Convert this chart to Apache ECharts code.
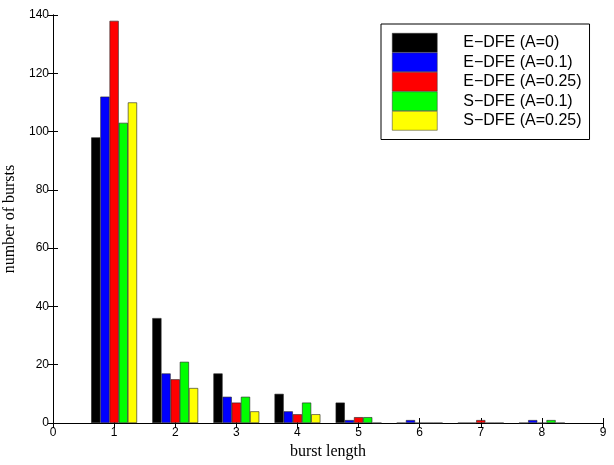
<!DOCTYPE html>
<html style="height: 100%">
   <head>
       <meta charset="utf-8">
   </head>
   <body style="height: 100%; margin: 0; background: #fff">
       <div id="container" style="width: 614px; height: 465px"></div>
       <script type="text/javascript" src="https://cdn.jsdelivr.net/npm/echarts@6/dist/echarts.min.js"></script>
       <script type="text/javascript">
// burst length categories and bar heights
var burstLength = [1, 2, 3, 4, 5, 6, 7, 8];
var edfeA0   = [98, 36, 17, 10, 7, 0, 0, 0];
var edfeA01  = [112, 17, 9, 4, 1, 1, 0, 1];
var edfeA025 = [138, 15, 7, 3, 2, 0, 1, 0];
var sdfeA01  = [103, 21, 9, 7, 2, 0, 0, 1];
var sdfeA025 = [110, 12, 4, 3, 0, 0, 0, 0];
var seriesNames = ['E\u2212DFE (A=0)', 'E\u2212DFE (A=0.1)', 'E\u2212DFE (A=0.25)', 'S\u2212DFE (A=0.1)', 'S\u2212DFE (A=0.25)'];
var seriesColors = ['#000000', '#0000ff', '#ff0000', '#00ff00', '#ffff00'];
var allValues = [edfeA0, edfeA01, edfeA025, sdfeA01, sdfeA025];

var dom = document.getElementById("container");
var myChart = echarts.init(dom);

var tickFont = { fontFamily: 'Liberation Sans, Arial, sans-serif', fontSize: 12, color: '#000' };
var nameFont = { fontFamily: 'Liberation Serif, Times New Roman, serif', fontSize: 16, color: '#000' };

var series = allValues.map(function (vals, i) {
    return {
        name: seriesNames[i],
        type: 'bar',
        xAxisIndex: 0,
        yAxisIndex: 0,
        barWidth: 9.17,
        barGap: '0%',
        itemStyle: { color: seriesColors[i], borderColor: '#222', borderWidth: 0.6 },
        data: burstLength.map(function (x, j) { return [x, vals[j]]; })
    };
});

option = {
    animation: false,
    grid: { left: 53, right: 11, top: 15, bottom: 42, outerBoundsMode: 'none', containLabel: false },
    legend: {
        orient: 'vertical',
        left: 381,
        top: 24,
        itemWidth: 45,
        itemHeight: 19,
        itemGap: 0,
        icon: 'rect',
        padding: [9, 8, 9, 11],
        borderColor: '#000',
        borderWidth: 1,
        backgroundColor: '#fff',
        itemStyle: { borderColor: '#333', borderWidth: 0.5 },
        textStyle: {
            fontFamily: 'Liberation Sans, Arial, sans-serif',
            fontSize: 16,
            lineHeight: 19,
            color: '#000',
            padding: [0, 0, 0, 21]
        },
        data: seriesNames
    },
    xAxis: [{
        type: 'value',
        min: 0, max: 9, interval: 1,
        name: 'burst length',
        nameLocation: 'middle',
        nameGap: 17,
        nameTextStyle: nameFont,
        axisLine: { show: true, lineStyle: { color: '#000', width: 1 } },
        axisTick: { show: true, inside: true, length: 5, lineStyle: { color: '#000' } },
        axisLabel: Object.assign({ margin: 4 }, tickFont),
        splitLine: { show: false }
    }, {
        type: 'value',
        position: 'top',
        min: 0, max: 9, interval: 1,
        axisLine: { show: true, lineStyle: { color: '#000', width: 1 } },
        axisTick: { show: true, inside: true, length: 5, lineStyle: { color: '#000' } },
        axisLabel: { show: false },
        splitLine: { show: false }
    }],
    yAxis: [{
        type: 'value',
        min: 0, max: 140, interval: 20,
        name: 'number of bursts',
        nameLocation: 'middle',
        nameGap: 28,
        nameTextStyle: nameFont,
        axisLine: { show: true, lineStyle: { color: '#000', width: 1 } },
        axisTick: { show: true, inside: true, length: 5, lineStyle: { color: '#000' } },
        axisLabel: Object.assign({ margin: 4 }, tickFont),
        splitLine: { show: false }
    }, {
        type: 'value',
        position: 'right',
        min: 0, max: 140, interval: 20,
        axisLine: { show: true, lineStyle: { color: '#000', width: 1 } },
        axisTick: { show: true, inside: true, length: 5, lineStyle: { color: '#000' } },
        axisLabel: { show: false },
        splitLine: { show: false }
    }],
    series: series
};

if (option && typeof option === "object") {
    myChart.setOption(option, true);
}
       </script>
   </body>
</html>
